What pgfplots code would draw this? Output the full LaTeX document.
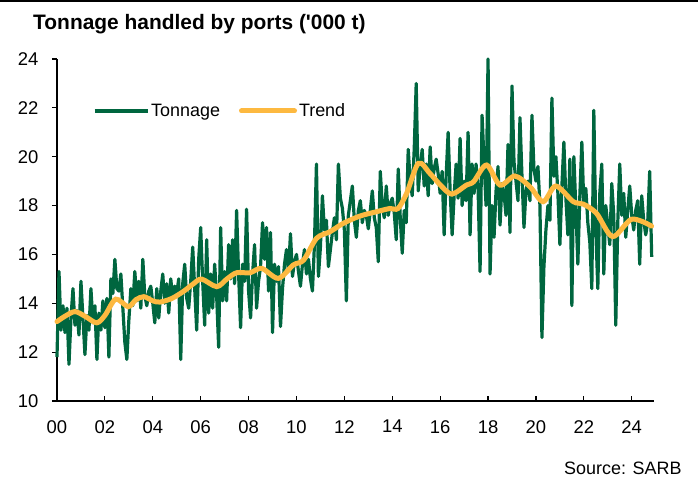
\documentclass[border=0pt]{standalone}
\usepackage{fontspec}
\setmainfont{Liberation Sans}[Ligatures=TeXOff]
\usepackage{pgfplots}
\pgfplotsset{compat=1.18}
\definecolor{tgreen}{RGB}{0,102,63}
\definecolor{tyellow}{RGB}{253,185,64}
\begin{document}
\begin{tikzpicture}
\useasboundingbox (0,0) rectangle (698bp,478bp);
\draw[line width=1.7bp] (0,477.2bp) -- (698bp,477.2bp);
\node[anchor=base west, inner sep=0pt, font=\fontsize{21}{24}\selectfont\bfseries] at (33bp,448.7bp) {Tonnage handled by ports ('000 t)};
\node[anchor=base east, inner sep=0pt, font=\fontsize{18}{21}\selectfont] at (681.7bp,4bp) {Source: SARB};
\begin{axis}[
  at={(57bp,77bp)}, anchor=south west,
  scale only axis, width=597bp, height=342bp,
  xmin=0, xmax=24.93, ymin=10, ymax=24,
  axis lines=left,
  axis line style={line width=1.2bp, -},
  clip=false,
  xtick={0,2,...,24},
  xticklabels={00,02,04,06,08,10,12,14,16,18,20,22,24},
  ytick={10,12,...,24},
  tick align=inside,
  major tick length=5bp,
  tick style={line width=1.2bp, black},
  y tick style={xshift=-5bp},
  /pgf/number format/assume math mode=true,
  tick label style={font=\fontsize{18.5}{21}\selectfont, inner sep=0pt},
  yticklabel style={anchor=east, xshift=-18.5bp},
  xticklabel style={anchor=north, yshift=-19bp},
  legend columns=2,
  legend style={draw=none, fill=none, inner sep=0pt, at={(axis description cs:0.06,0.848)}, anchor=west, font=\fontsize{18}{21}\selectfont, /tikz/every even column/.append style={column sep=17bp}},
  legend cell align=left,
  legend image code/.code={\draw[#1] (0bp,0bp) -- (53bp,0bp);},
]
\addplot[tgreen, line width=3.2bp, line join=round] table[x expr=\coordindex/12, y index=0, row sep=\\, header=false]{
11.8\\ 15.3\\ 12.9\\ 13.9\\ 12.8\\ 13.8\\ 11.5\\ 13.4\\ 14.6\\ 13.1\\ 13.7\\ 12.7\\
14.9\\ 13.4\\ 11.9\\ 13.5\\ 12.9\\ 14.6\\ 13.2\\ 13.9\\ 11.7\\ 13.6\\ 12.9\\ 14.1\\
13.0\\ 14.2\\ 11.8\\ 15.0\\ 14.4\\ 15.8\\ 14.6\\ 14.5\\ 15.2\\ 13.8\\ 12.4\\ 11.7\\
13.3\\ 14.6\\ 13.9\\ 15.3\\ 14.1\\ 14.9\\ 13.8\\ 15.8\\ 14.3\\ 13.9\\ 14.5\\ 14.7\\
14.0\\ 13.2\\ 14.6\\ 13.4\\ 14.5\\ 15.2\\ 14.0\\ 14.8\\ 13.6\\ 15.0\\ 14.2\\ 14.7\\
14.4\\ 15.0\\ 11.7\\ 14.8\\ 15.6\\ 14.2\\ 13.8\\ 14.9\\ 16.3\\ 14.6\\ 12.9\\ 15.8\\
17.1\\ 14.9\\ 13.1\\ 16.6\\ 13.6\\ 15.2\\ 13.8\\ 15.6\\ 14.3\\ 12.2\\ 17.1\\ 14.1\\
15.3\\ 14.1\\ 16.4\\ 15.0\\ 16.6\\ 14.8\\ 17.8\\ 15.2\\ 13.0\\ 15.6\\ 14.9\\ 17.85\\
14.5\\ 13.4\\ 15.2\\ 16.4\\ 13.8\\ 14.9\\ 15.5\\ 17.3\\ 15.8\\ 17.1\\ 14.5\\ 16.9\\
12.8\\ 15.6\\ 14.9\\ 15.5\\ 13.05\\ 14.6\\ 15.6\\ 16.2\\ 15.3\\ 16.85\\ 15.1\\ 15.7\\
16.0\\ 15.3\\ 14.7\\ 15.6\\ 16.2\\ 15.2\\ 15.8\\ 15.0\\ 14.5\\ 16.4\\ 19.7\\ 15.1\\
16.3\\ 18.4\\ 17.0\\ 17.4\\ 15.5\\ 16.2\\ 16.9\\ 17.5\\ 16.6\\ 19.7\\ 18.3\\ 17.9\\
17.0\\ 14.1\\ 17.6\\ 18.2\\ 18.8\\ 17.4\\ 16.7\\ 17.8\\ 18.2\\ 17.3\\ 17.8\\ 17.6\\
17.05\\ 17.8\\ 18.6\\ 17.5\\ 17.1\\ 15.7\\ 19.4\\ 18.0\\ 17.5\\ 18.8\\ 17.6\\ 18.1\\
18.3\\ 17.7\\ 16.6\\ 19.5\\ 17.5\\ 16.05\\ 17.8\\ 17.3\\ 20.3\\ 19.0\\ 18.4\\ 20.3\\
23.0\\ 18.6\\ 19.6\\ 20.3\\ 18.8\\ 19.7\\ 18.4\\ 20.4\\ 18.9\\ 19.5\\ 19.9\\ 19.3\\
18.5\\ 19.4\\ 16.8\\ 19.2\\ 21.0\\ 18.6\\ 16.8\\ 18.4\\ 19.7\\ 18.3\\ 20.75\\ 18.0\\
19.0\\ 18.2\\ 21.0\\ 16.8\\ 19.7\\ 18.5\\ 19.7\\ 18.7\\ 15.3\\ 21.7\\ 19.8\\ 18.0\\
24.0\\ 15.2\\ 18.0\\ 16.7\\ 18.6\\ 19.6\\ 17.2\\ 18.9\\ 18.5\\ 17.6\\ 20.5\\ 16.9\\
22.9\\ 19.8\\ 19.0\\ 18.2\\ 21.6\\ 19.2\\ 17.1\\ 18.6\\ 19.0\\ 18.2\\ 21.7\\ 19.5\\
19.0\\ 19.6\\ 18.0\\ 12.6\\ 15.5\\ 17.0\\ 18.0\\ 17.4\\ 22.4\\ 19.2\\ 20.0\\ 18.5\\
16.4\\ 18.8\\ 20.6\\ 18.3\\ 16.8\\ 19.9\\ 13.9\\ 20.0\\ 17.9\\ 15.6\\ 18.4\\ 20.6\\
18.0\\ 18.7\\ 17.3\\ 16.5\\ 14.6\\ 21.9\\ 17.0\\ 14.6\\ 18.5\\ 19.7\\ 15.2\\ 18.0\\
17.2\\ 16.4\\ 18.9\\ 17.6\\ 13.1\\ 17.3\\ 19.7\\ 17.6\\ 18.5\\ 16.7\\ 17.8\\ 18.8\\
17.6\\ 17.0\\ 17.8\\ 18.2\\ 15.6\\ 18.4\\ 17.4\\ 16.8\\ 17.3\\ 19.4\\ 15.9\\
};
\addlegendentry{Tonnage}
\addplot[tyellow, line width=5bp, smooth, line cap=round] coordinates {
(0,13.25) (0.3,13.45) (0.75,13.66) (1.2,13.45) (1.66,13.2) (2.0,13.5) (2.45,14.17) (2.97,13.86) (3.3,14.15) (3.63,14.27) (4.0,14.1) (4.3,14.05) (4.8,14.2) (5.3,14.5) (5.7,14.8) (6.04,14.99) (6.67,14.68) (7.1,15.0) (7.5,15.25) (8.06,15.25) (8.55,15.43) (9.24,15.02) (9.87,15.57) (10.3,15.77) (10.84,16.66) (11.4,16.93) (11.95,17.27) (12.65,17.57) (13.35,17.75) (13.9,17.88) (14.24,17.88) (14.6,18.5) (15.09,19.73) (15.57,19.32) (16.0,18.85) (16.48,18.47) (17.1,18.84) (17.4,18.98) (17.94,19.66) (18.5,18.84) (19.12,19.21) (19.75,18.77) (20.3,18.16) (20.83,18.8) (21.56,18.16) (21.98,18.06) (22.53,17.68) (23.2,16.73) (24.0,17.44) (24.83,17.16)
};
\addlegendentry{Trend}
\end{axis}
\end{tikzpicture}
\end{document}
